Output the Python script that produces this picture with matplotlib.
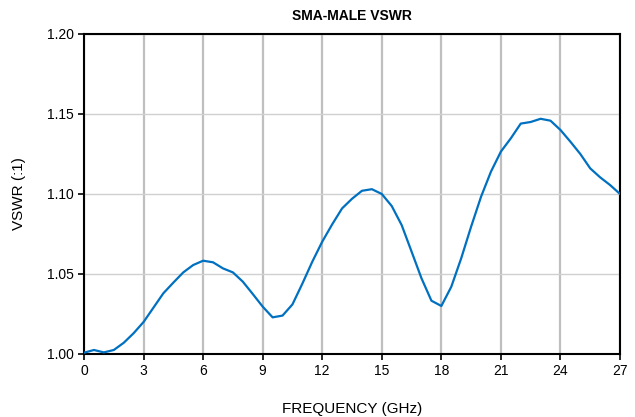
import numpy as np
import matplotlib.pyplot as plt

plt.rcParams['font.family'] = ['Liberation Sans', 'DejaVu Sans']

freq = np.arange(0, 27.01, 0.5)
vswr = [1.0008, 1.0025, 1.001, 1.0025, 1.007, 1.013, 1.020, 1.029, 1.038, 1.0446,
        1.051, 1.0556, 1.0583, 1.0573, 1.0535, 1.051, 1.0452, 1.0375, 1.0296, 1.0229,
        1.024, 1.031, 1.044, 1.0577, 1.0702, 1.081, 1.091, 1.097, 1.102, 1.103,
        1.100, 1.0925, 1.0806, 1.064, 1.0473, 1.0333, 1.030, 1.042, 1.0598, 1.0796,
        1.0983, 1.114, 1.1265, 1.1348, 1.144, 1.145, 1.147, 1.1458, 1.140, 1.1327,
        1.125, 1.116, 1.1104, 1.1056, 1.100]

fig = plt.figure(figsize=(6.35, 4.17), dpi=100)
ax = fig.add_axes([0.1323, 0.1511, 0.8441, 0.7674])

ax.plot(freq, vswr, color='#0070C0', lw=1.6, zorder=3)

ax.set_xlim(0, 27)
ax.set_ylim(1.0, 1.2)
ax.set_xticks(np.arange(0, 28, 3))
ax.set_yticks(np.arange(1.0, 1.201, 0.05))
ax.set_yticklabels(['%.2f' % v for v in np.arange(1.0, 1.201, 0.05)])

ax.grid(axis='x', color='#BFBFBF', lw=1.6)
ax.grid(axis='y', color='#D0D0D0', lw=1.0)
ax.set_axisbelow(True)

for s in ax.spines.values():
    s.set_linewidth(1.5)
ax.tick_params(labelsize=10, length=4, width=1.2, direction='out')

ax.set_title('SMA-MALE VSWR', fontsize=10, fontweight='bold', pad=10)
ax.set_xlabel('FREQUENCY (GHz)', fontsize=11, labelpad=17)
ax.set_ylabel('VSWR (:1)', fontsize=11, labelpad=15)

plt.savefig('out.png', dpi=100)
